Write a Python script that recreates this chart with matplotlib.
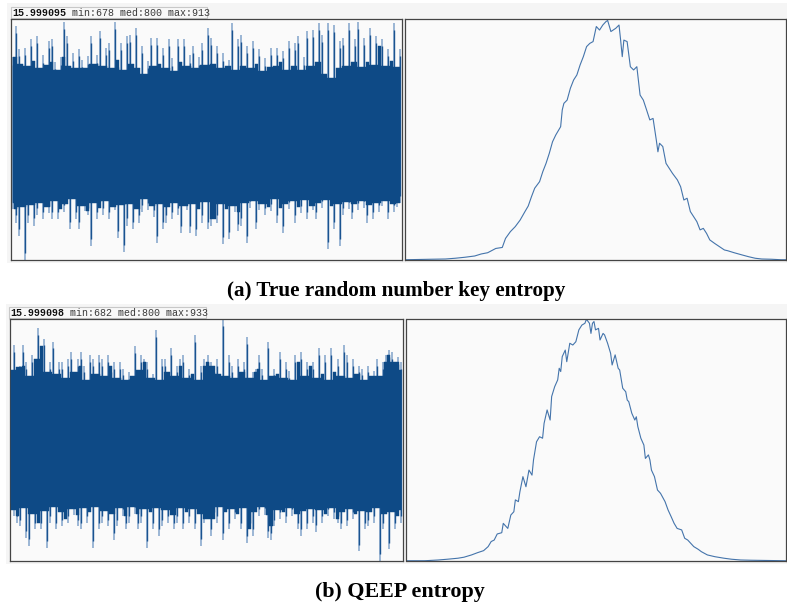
import numpy as np
import matplotlib.pyplot as plt
from matplotlib.patches import Rectangle

# ---- data -------------------------------------------------------------------
# (a) true random number key: per-column max / min of the bucket counts
a_hi = [878, 909, 886, 872, 887, 870, 896, 875, 899, 868, 880, 871, 894, 896, 874, 866,
        878, 913, 899, 870, 882, 868, 886, 876, 868, 879, 899, 872, 880, 904, 870, 887,
        892, 868, 913, 876, 892, 866, 899, 900, 872, 907, 868, 889, 862, 875, 897, 870,
        897, 872, 887, 868, 896, 877, 865, 896, 874, 896, 870, 880, 889, 868, 878, 892,
        871, 907, 897, 872, 889, 868, 882, 870, 876, 912, 866, 896, 900, 870, 889, 868,
        894, 872, 886, 865, 877, 869, 887, 870, 887, 874, 884, 866, 894, 870, 892, 899,
        866, 878, 904, 870, 905, 874, 912, 900, 862, 912, 858, 910, 868, 894, 897, 870,
        912, 874, 896, 913, 869, 897, 874, 907, 871, 899, 889, 896, 870, 886, 875, 912,
        869, 886]
a_lo = [728, 715, 702, 730, 678, 715, 732, 712, 722, 734, 718, 730, 724, 718, 736, 718,
        728, 725, 733, 709, 738, 718, 709, 731, 726, 722, 692, 734, 718, 729, 722, 736,
        718, 730, 727, 700, 732, 686, 712, 733, 709, 728, 715, 725, 738, 727, 731, 720,
        695, 733, 709, 715, 730, 718, 734, 722, 705, 731, 727, 705, 733, 702, 728, 715,
        735, 709, 712, 718, 715, 733, 694, 728, 699, 731, 725, 707, 712, 734, 695, 729,
        736, 709, 727, 733, 722, 730, 726, 738, 715, 729, 705, 733, 728, 736, 715, 730,
        724, 737, 718, 731, 727, 718, 734, 729, 737, 689, 731, 709, 733, 692, 722, 735,
        728, 718, 733, 727, 736, 729, 715, 732, 718, 734, 725, 731, 736, 718, 733, 725,
        730, 734]

# histogram of bucket counts (value -> number of buckets)
a_vals = [678, 694, 703, 709, 715, 721, 725, 729, 734, 738, 740, 743, 746, 749, 752, 754,
          756, 758, 761, 763, 765, 767, 769, 771, 774, 775, 776, 778, 780, 782, 784, 786,
          788, 790, 792, 794, 796, 798, 800, 802, 803, 805, 808, 810, 811, 812, 813, 815,
          817, 819, 821, 823, 825, 827, 829, 831, 833, 834, 835, 837, 839, 841, 843, 846,
          848, 850, 852, 854, 856, 858, 860, 862, 864, 866, 869, 872, 875, 877, 881, 886,
          890, 894, 898, 904, 910, 913]
a_cnt = [1, 3, 4, 7, 11, 16, 24, 29, 46, 50, 86, 113, 133, 159, 193, 215,
         252, 286, 312, 352, 385, 425, 471, 498, 531, 598, 624, 637, 684, 717, 737, 777,
         810, 850, 863, 870, 930, 916, 936, 950, 954, 910, 923, 936, 876, 810, 876, 870,
         770, 757, 770, 657, 637, 598, 558, 564, 478, 431, 465, 452, 385, 365, 345, 319,
         292, 239, 246, 193, 173, 153, 120, 126, 106, 80, 66, 53, 40, 37, 29, 20,
         13, 7, 4, 3, 1, 1]

# (b) QEEP
b_hi = [880, 906, 884, 885, 906, 889, 874, 896, 892, 924, 905, 913, 878, 889, 910, 876,
        889, 889, 872, 892, 899, 878, 892, 899, 885, 870, 896, 892, 876, 896, 892, 874,
        896, 885, 889, 872, 889, 882, 870, 878, 874, 905, 880, 896, 892, 889, 872, 876,
        922, 870, 892, 892, 878, 903, 874, 885, 892, 896, 872, 882, 876, 917, 870, 885,
        892, 896, 889, 885, 892, 876, 933, 874, 896, 885, 872, 892, 878, 889, 915, 872,
        878, 882, 896, 882, 870, 910, 874, 882, 876, 899, 872, 889, 879, 870, 896, 889,
        899, 874, 889, 885, 889, 872, 903, 876, 896, 870, 903, 878, 892, 874, 906, 896,
        872, 892, 876, 885, 882, 870, 885, 874, 879, 892, 874, 889, 896, 901, 899, 889,
        894, 889]
b_lo = [735, 729, 722, 718, 737, 706, 698, 731, 715, 722, 715, 734, 696, 722, 738, 715,
        733, 718, 726, 722, 736, 730, 718, 715, 737, 722, 733, 696, 738, 715, 722, 734,
        718, 731, 704, 718, 737, 729, 715, 722, 738, 731, 715, 722, 736, 696, 733, 715,
        737, 708, 718, 735, 722, 730, 715, 722, 737, 715, 733, 722, 736, 715, 731, 698,
        722, 726, 708, 726, 722, 738, 704, 733, 715, 736, 726, 731, 715, 737, 701, 715,
        708, 733, 729, 738, 730, 706, 704, 718, 735, 726, 733, 722, 737, 729, 731, 715,
        708, 734, 715, 736, 722, 712, 735, 722, 731, 729, 737, 726, 722, 715, 733, 718,
        736, 726, 731, 692, 734, 715, 718, 733, 722, 737, 682, 715, 731, 694, 733, 715,
        729, 722]

b_vals = [682, 694, 703, 709, 716, 720, 725, 729, 733, 736, 738, 740, 742, 745, 746, 749,
          751, 753, 754, 756, 757, 759, 761, 763, 765, 766, 768, 770, 772, 773, 775, 777,
          778, 780, 782, 783, 784, 785, 787, 788, 790, 792, 794, 796, 798, 800, 801, 803,
          804, 805, 806, 807, 809, 810, 812, 813, 815, 817, 818, 820, 822, 823, 825, 827,
          828, 829, 831, 833, 834, 835, 837, 839, 840, 842, 843, 844, 846, 848, 850, 853,
          855, 857, 859, 861, 864, 866, 868, 870, 872, 875, 877, 881, 886, 892, 897, 903,
          910, 933]
b_cnt = [1, 1, 4, 7, 11, 15, 24, 33, 41, 57, 77, 83, 107, 112, 149, 129,
         182, 195, 242, 235, 274, 334, 294, 360, 340, 400, 472, 492, 486, 545, 598, 558,
         651, 690, 717, 763, 750, 809, 835, 789, 862, 855, 868, 915, 934, 941, 957, 941,
         901, 941, 948, 915, 921, 875, 901, 895, 862, 822, 776, 816, 763, 756, 684, 670,
         637, 631, 585, 558, 571, 532, 486, 459, 406, 420, 400, 360, 334, 281, 268, 235,
         202, 176, 149, 129, 123, 90, 83, 70, 57, 46, 37, 24, 17, 11, 7, 4,
         3, 1]

labels = [("15.999095", " min:678 med:800 max:913"),
          ("15.999098", " min:682 med:800 max:933")]
captions = ["(a) True random number key entropy", "(b) QEEP entropy"]

# ---- drawing -----------------------------------------------------------------
W, H = 787, 607
fig = plt.figure(figsize=(W / 100, H / 100), dpi=100, facecolor="white")


def box(x0, y0, x1, y1):
    # pixel box (top-left origin) -> figure fraction rect
    return [x0 / W, 1 - y1 / H, (x1 - x0) / W, (y1 - y0) / H]


def style(ax):
    ax.set_facecolor("#fafafa")
    ax.set_xticks([])
    ax.set_yticks([])
    for s in ax.spines.values():
        s.set_color("#444444")
        s.set_linewidth(0.9)


def series(ax, hi, lo, ymin, ymax):
    hi = np.array(hi)
    lo = np.array(lo)
    x = np.arange(len(hi))
    core_hi = np.minimum(np.minimum(hi, np.roll(hi, 1)), np.roll(hi, -1))
    core_lo = np.maximum(np.maximum(lo, np.roll(lo, 1)), np.roll(lo, -1))
    ax.vlines(x, lo, hi, color="#86a7cc", lw=1.15, zorder=2)
    ax.vlines(x, lo + 7, hi - 7, color="#1a5390", lw=1.0, zorder=3)
    ax.fill_between(x, core_lo, core_hi, step="mid", color="#0e4a86", lw=0.3,
                    edgecolor="#0e4a86", zorder=4)
    ax.set_xlim(-0.5, len(hi) - 0.5)
    ax.set_ylim(ymin, ymax)


def histo(ax, vals, cnt, xmin, xmax):
    ax.plot(vals, cnt, color="#4474ab", lw=0.8)
    ax.set_xlim(xmin, xmax)
    ax.set_ylim(0, 960)


rows = [
    dict(top=19, bot=260, lx=(11, 402), rx=(405, 786), lab=(11, 7, 207, 18),
         bg=(7, 3, 787, 263), cap=291, capx=396, capsize=15.2,
         hi=a_hi, lo=a_lo, ylim=(678, 916), vals=a_vals, cnt=a_cnt, xr=(678, 913)),
    dict(top=318.5, bot=561, lx=(9.5, 402.5), rx=(406.5, 786), lab=(9, 307, 206, 318),
         bg=(6, 304, 787, 564), cap=592, capx=400, capsize=15.8,
         hi=b_hi, lo=b_lo, ylim=(682, 934), vals=b_vals, cnt=b_cnt, xr=(682, 933)),
]

for k, r in enumerate(rows):
    bx0, by0, bx1, by1 = r["bg"]
    fig.patches.append(Rectangle((bx0 / W, 1 - by1 / H), (bx1 - bx0) / W, (by1 - by0) / H,
                                 transform=fig.transFigure, facecolor="#f5f5f5",
                                 edgecolor="none", zorder=-10))
    lx0, ly0, lx1, ly1 = r["lab"]
    fig.patches.append(Rectangle((lx0 / W, 1 - ly1 / H), (lx1 - lx0) / W, (ly1 - ly0) / H,
                                 transform=fig.transFigure, facecolor="#f8f8f8",
                                 edgecolor="#c8c8c8", lw=0.8, zorder=-5))
    ty = 1 - (ly0 + ly1) / 2 / H
    fig.text((lx0 + 1) / W, ty, labels[k][0], family="Liberation Mono", weight="bold",
             fontsize=7.2, va="center", ha="left", color="#111111")
    fig.text((lx0 + 1 + 54) / W, ty, labels[k][1], family="Liberation Mono",
             fontsize=7.2, va="center", ha="left", color="#3a3a3a")

    ax1 = fig.add_axes(box(r["lx"][0], r["top"], r["lx"][1], r["bot"]))
    ax1.set_zorder(2)
    style(ax1)
    series(ax1, r["hi"], r["lo"], *r["ylim"])

    ax2 = fig.add_axes(box(r["rx"][0], r["top"], r["rx"][1], r["bot"]))
    ax2.set_zorder(2)
    style(ax2)
    histo(ax2, r["vals"], r["cnt"], *r["xr"])

    fig.text(r["capx"] / W, 1 - r["cap"] / H, captions[k], family="Liberation Serif",
             weight="bold", fontsize=r["capsize"], ha="center", va="center", color="black")

fig.savefig("out.png", dpi=100)
